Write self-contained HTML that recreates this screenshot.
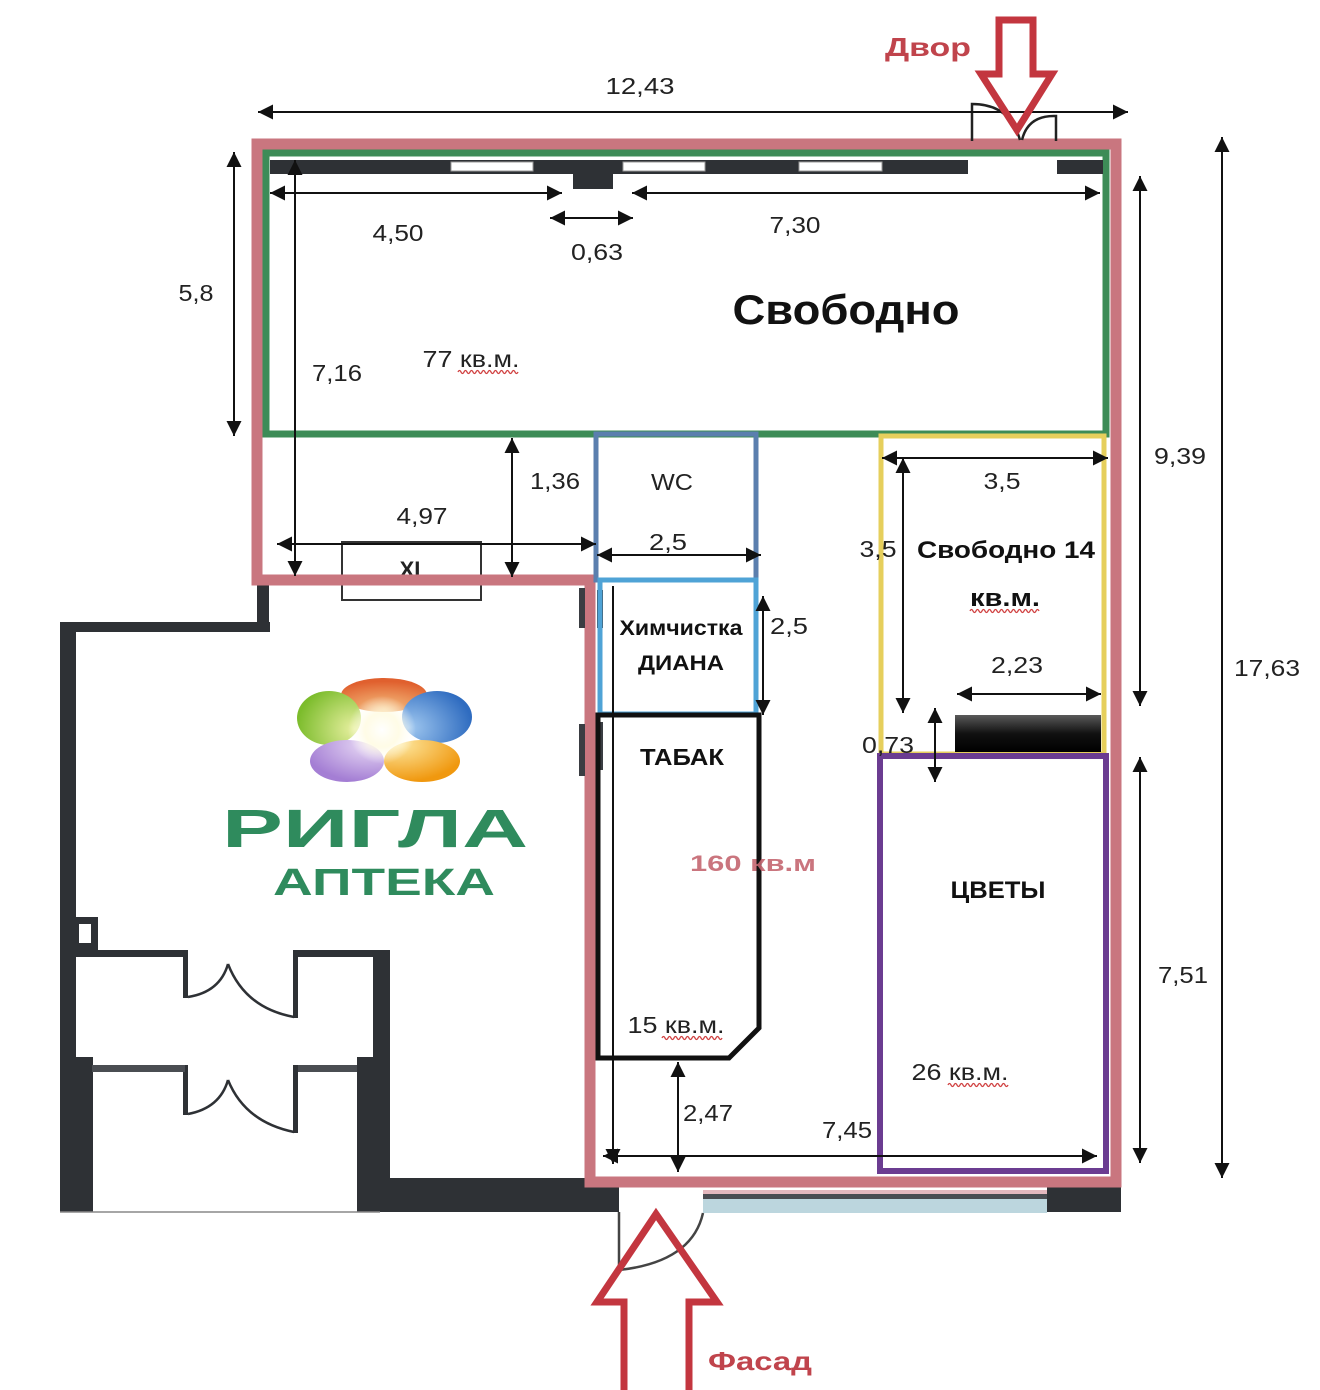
<!DOCTYPE html>
<html><head><meta charset="utf-8">
<style>
html,body{margin:0;padding:0;background:#fff;}
svg{display:block;font-family:"Liberation Sans","DejaVu Sans",sans-serif;}
.d{font-size:23px;fill:#222;text-anchor:middle;}
.b{font-weight:bold;fill:#111;text-anchor:middle;}
</style></head>
<body>
<svg width="1320" height="1390" viewBox="0 0 1320 1390" xmlns="http://www.w3.org/2000/svg">
<defs>
<marker id="a" viewBox="0 0 10 10" refX="10" refY="5" markerWidth="16" markerHeight="15" markerUnits="userSpaceOnUse" orient="auto-start-reverse"><path d="M0,0 L10,5 L0,10z" fill="#111"/></marker>
<linearGradient id="bar" x1="0" y1="0" x2="0" y2="1"><stop offset="0" stop-color="#5a5a5a"/><stop offset="0.5" stop-color="#111"/><stop offset="1" stop-color="#000"/></linearGradient>
<radialGradient id="glow" cx="0.5" cy="0.5" r="0.5"><stop offset="0" stop-color="#fff" stop-opacity="1"/><stop offset="0.5" stop-color="#fffbe0" stop-opacity="0.8"/><stop offset="1" stop-color="#fff" stop-opacity="0"/></radialGradient>
<radialGradient id="po" cx="0.5" cy="0.9" r="0.8"><stop offset="0" stop-color="#f5c080"/><stop offset="1" stop-color="#e0602e"/></radialGradient>
<radialGradient id="pg" cx="0.9" cy="0.7" r="0.9"><stop offset="0" stop-color="#e8f0a0"/><stop offset="1" stop-color="#7cbc2c"/></radialGradient>
<radialGradient id="pb" cx="0.1" cy="0.7" r="0.9"><stop offset="0" stop-color="#a0c8f0"/><stop offset="1" stop-color="#2f6cc0"/></radialGradient>
<radialGradient id="pp" cx="0.8" cy="0.1" r="0.9"><stop offset="0" stop-color="#eadcf6"/><stop offset="1" stop-color="#a47ed4"/></radialGradient>
<radialGradient id="py" cx="0.2" cy="0.1" r="0.9"><stop offset="0" stop-color="#fde8a0"/><stop offset="1" stop-color="#f0980f"/></radialGradient>
</defs>

<!-- ===== Pharmacy dark walls ===== -->
<g fill="#2e3135">
<rect x="257" y="583" width="12" height="49"/>
<rect x="60" y="622" width="210" height="10"/>
<rect x="60" y="622" width="16" height="590"/>
<rect x="60" y="1057" width="33" height="155"/>
<rect x="75" y="917" width="23" height="33"/>
<rect x="75" y="950" width="113" height="7"/>
<rect x="183" y="950" width="5" height="48"/>
<rect x="293" y="950" width="5" height="68"/>
<rect x="293" y="950" width="97" height="7"/>
<rect x="373" y="950" width="17" height="262"/>
<rect x="357" y="1057" width="33" height="155"/>
<rect x="373" y="1178" width="246" height="34"/>
<rect x="183" y="1065" width="5" height="50"/>
<rect x="293" y="1065" width="5" height="68"/>
<rect x="1047" y="1186" width="74" height="26"/>
</g>
<rect x="79" y="924" width="12" height="19" fill="#fff"/>
<rect x="92" y="1065" width="93" height="7" fill="#4a4d52"/>
<rect x="298" y="1065" width="59" height="7" fill="#4a4d52"/>
<g fill="none" stroke="#2e3135" stroke-width="2.5">
<path d="M188,997 Q220,992 228,964"/>
<path d="M294,1017 Q245,1008 228,964"/>
<path d="M188,1114 Q220,1108 228,1080"/>
<path d="M294,1132 Q245,1122 228,1080"/>
</g>
<line x1="60" y1="1212" x2="380" y2="1212" stroke="#888" stroke-width="1.5"/>

<!-- ===== Glass & bottom door ===== -->
<rect x="703" y="1190" width="344" height="4" fill="#e4b8be"/>
<rect x="703" y="1194" width="344" height="5" fill="#4a4d52"/>
<rect x="703" y="1199" width="344" height="14" fill="#bcd6de"/>
<path d="M619,1212 V1270 Q692,1262 703,1213" fill="none" stroke="#444" stroke-width="2.5"/>

<!-- ===== Logo ===== -->
<ellipse cx="384" cy="695" rx="43" ry="17" fill="url(#po)"/>
<ellipse cx="329" cy="718" rx="32" ry="27" fill="url(#pg)"/>
<ellipse cx="437" cy="717" rx="35" ry="26" fill="url(#pb)"/>
<ellipse cx="347" cy="761" rx="37" ry="21" fill="url(#pp)"/>
<ellipse cx="422" cy="761" rx="38" ry="21" fill="url(#py)"/>
<circle cx="382" cy="730" r="34" fill="url(#glow)"/>
<text x="375" y="847" font-size="54" font-weight="bold" fill="#2f8b5d" text-anchor="middle" textLength="306" lengthAdjust="spacingAndGlyphs">РИГЛА</text>
<text x="384" y="895" font-size="38" font-weight="bold" fill="#2f8b5d" text-anchor="middle" textLength="222" lengthAdjust="spacingAndGlyphs">АПТЕКА</text>

<!-- XI box -->
<rect x="342" y="542" width="139" height="58" fill="none" stroke="#333" stroke-width="2"/>
<text x="410" y="577" font-size="22" font-weight="bold" fill="#222" text-anchor="middle">XI</text>

<!-- ===== Pink outer wall ===== -->
<path d="M590,1182 V580 H257 V144 H1116 V1182 Z" fill="none" stroke="#c9767f" stroke-width="11" stroke-linejoin="miter"/>
<g fill="#3a3d42">
<rect x="579" y="588" width="6" height="40"/>
<rect x="579" y="724" width="6" height="52"/>
<rect x="597" y="590" width="6" height="38"/>
<rect x="597" y="722" width="6" height="48"/>
</g>

<!-- ===== Green area ===== -->
<rect x="266" y="153" width="840" height="281" fill="none" stroke="#3d8c57" stroke-width="7"/>
<rect x="270" y="160" width="833" height="14" fill="#2e3135"/>
<g fill="#fff" stroke="#999" stroke-width="1">
<rect x="451" y="162" width="82" height="9"/>
<rect x="623" y="162" width="82" height="9"/>
<rect x="799" y="162" width="83" height="9"/>
</g>
<rect x="968" y="157" width="89" height="18" fill="#fff"/>
<rect x="573" y="160" width="40" height="29" fill="#2e3135"/>

<!-- top door -->
<g fill="none" stroke="#222" stroke-width="2.5">
<path d="M972,141 V104 Q1010,104 1020,140"/>
<path d="M1056,141 V116 Q1028,115 1022,140"/>
</g>

<!-- ===== Rooms ===== -->
<rect x="596" y="434" width="160" height="146" fill="none" stroke="#5b7fae" stroke-width="5"/>
<rect x="600" y="580" width="156" height="134" fill="none" stroke="#4fa3d6" stroke-width="5"/>
<polygon points="598,715 759,715 759,1028 729,1058 598,1058" fill="none" stroke="#111" stroke-width="5"/>
<rect x="881" y="436" width="223" height="318" fill="none" stroke="#e6cf5c" stroke-width="5"/>
<rect x="955" y="715" width="146" height="37" fill="url(#bar)"/>
<rect x="880" y="756" width="226" height="415" fill="none" stroke="#6b3c91" stroke-width="6"/>

<!-- ===== Dimension lines ===== -->
<g stroke="#111" stroke-width="2" marker-start="url(#a)" marker-end="url(#a)">
<line x1="258" y1="112" x2="1128" y2="112"/>
<line x1="234" y1="152" x2="234" y2="436"/>
<line x1="295" y1="160" x2="295" y2="576"/>
<line x1="270" y1="193" x2="562" y2="193"/>
<line x1="550" y1="218" x2="633" y2="218"/>
<line x1="632" y1="193" x2="1100" y2="193"/>
<line x1="277" y1="544" x2="596" y2="544"/>
<line x1="512" y1="438" x2="512" y2="577"/>
<line x1="597" y1="555" x2="761" y2="555"/>
<line x1="763" y1="596" x2="763" y2="715"/>
<line x1="882" y1="458" x2="1108" y2="458"/>
<line x1="903" y1="458" x2="903" y2="713"/>
<line x1="957" y1="694" x2="1101" y2="694"/>
<line x1="935" y1="708" x2="935" y2="782"/>
<line x1="1140" y1="176" x2="1140" y2="706"/>
<line x1="1140" y1="757" x2="1140" y2="1163"/>
<line x1="1222" y1="137" x2="1222" y2="1178"/>
<line x1="678" y1="1062" x2="678" y2="1172"/>
<line x1="603" y1="1156" x2="1097" y2="1156"/>
</g>
<line x1="613" y1="586" x2="613" y2="1164" stroke="#111" stroke-width="2" marker-end="url(#a)"/>

<!-- ===== Red arrows ===== -->
<polygon points="999,20 1033,20 1033,74 1052,74 1017,130 981,74 999,74" fill="none" stroke="#c3363f" stroke-width="7" stroke-linejoin="miter"/>
<polygon points="656,1214 717,1302 689,1302 689,1398 624,1398 624,1302 597,1302" fill="none" stroke="#c3363f" stroke-width="7" stroke-linejoin="miter"/>

<!-- ===== Labels ===== -->
<text x="928" y="56" font-size="26" font-weight="bold" fill="#c0444c" text-anchor="middle" textLength="86" lengthAdjust="spacingAndGlyphs">Двор</text>
<text x="760" y="1370" font-size="26" font-weight="bold" fill="#c0444c" text-anchor="middle" textLength="104" lengthAdjust="spacingAndGlyphs">Фасад</text>

<text class="d" x="640" y="94" textLength="69" lengthAdjust="spacingAndGlyphs">12,43</text>
<text class="d" x="398" y="241" textLength="51" lengthAdjust="spacingAndGlyphs">4,50</text>
<text class="d" x="597" y="260" textLength="52" lengthAdjust="spacingAndGlyphs">0,63</text>
<text class="d" x="795" y="233" textLength="51" lengthAdjust="spacingAndGlyphs">7,30</text>
<text class="d" x="196" y="301" textLength="35" lengthAdjust="spacingAndGlyphs">5,8</text>
<text class="d" x="337" y="381" textLength="50" lengthAdjust="spacingAndGlyphs">7,16</text>
<text class="d" x="471" y="367" textLength="97" lengthAdjust="spacingAndGlyphs">77 кв.м.</text>
<text class="d" x="555" y="489" textLength="50" lengthAdjust="spacingAndGlyphs">1,36</text>
<text class="d" x="672" y="490" textLength="42" lengthAdjust="spacingAndGlyphs">WC</text>
<text class="d" x="422" y="524" textLength="51" lengthAdjust="spacingAndGlyphs">4,97</text>
<text class="d" x="668" y="550" textLength="38" lengthAdjust="spacingAndGlyphs">2,5</text>
<text class="d" x="789" y="634" textLength="38" lengthAdjust="spacingAndGlyphs">2,5</text>
<text class="d" x="1002" y="489" textLength="37" lengthAdjust="spacingAndGlyphs">3,5</text>
<text class="d" x="878" y="557" textLength="37" lengthAdjust="spacingAndGlyphs">3,5</text>
<text class="d" x="1017" y="673" textLength="52" lengthAdjust="spacingAndGlyphs">2,23</text>
<text class="d" x="888" y="753" textLength="52" lengthAdjust="spacingAndGlyphs">0,73</text>
<text class="d" x="1180" y="464" textLength="52" lengthAdjust="spacingAndGlyphs">9,39</text>
<text class="d" x="1267" y="676" textLength="66" lengthAdjust="spacingAndGlyphs">17,63</text>
<text class="d" x="1183" y="983" textLength="50" lengthAdjust="spacingAndGlyphs">7,51</text>
<text class="d" x="676" y="1033" textLength="97" lengthAdjust="spacingAndGlyphs">15 кв.м.</text>
<text class="d" x="960" y="1080" textLength="97" lengthAdjust="spacingAndGlyphs">26 кв.м.</text>
<text class="d" x="708" y="1121" textLength="50" lengthAdjust="spacingAndGlyphs">2,47</text>
<text class="d" x="847" y="1138" textLength="50" lengthAdjust="spacingAndGlyphs">7,45</text>

<text class="b" x="846" y="324" font-size="42" textLength="227" lengthAdjust="spacingAndGlyphs">Свободно</text>
<text class="b" x="681" y="635" font-size="21" textLength="123" lengthAdjust="spacingAndGlyphs">Химчистка</text>
<text class="b" x="681" y="670" font-size="21" textLength="86" lengthAdjust="spacingAndGlyphs">ДИАНА</text>
<text class="b" x="1006" y="558" font-size="24" textLength="178" lengthAdjust="spacingAndGlyphs">Свободно 14</text>
<text class="b" x="1005" y="606" font-size="24" textLength="70" lengthAdjust="spacingAndGlyphs">кв.м.</text>
<text class="b" x="682" y="765" font-size="23" textLength="84" lengthAdjust="spacingAndGlyphs">ТАБАК</text>
<text class="b" x="753" y="871" font-size="22" fill="#c46670" fill-opacity="0.9" textLength="126" lengthAdjust="spacingAndGlyphs" style="fill:#c46670">160 кв.м</text>
<text class="b" x="998" y="898" font-size="24" textLength="95" lengthAdjust="spacingAndGlyphs">ЦВЕТЫ</text>

<!-- wavy underlines -->
<g fill="none" stroke="#d04040" stroke-width="1.3">
<path d="M458,372 q1.5,-3 3,0 t3,0 t3,0 t3,0 t3,0 t3,0 t3,0 t3,0 t3,0 t3,0 t3,0 t3,0 t3,0 t3,0 t3,0 t3,0 t3,0 t3,0 t3,0 t3,0"/>
<path d="M970,611 q1.5,-3 3,0 t3,0 t3,0 t3,0 t3,0 t3,0 t3,0 t3,0 t3,0 t3,0 t3,0 t3,0 t3,0 t3,0 t3,0 t3,0 t3,0 t3,0 t3,0 t3,0 t3,0 t3,0 t3,0"/>
<path d="M662,1038 q1.5,-3 3,0 t3,0 t3,0 t3,0 t3,0 t3,0 t3,0 t3,0 t3,0 t3,0 t3,0 t3,0 t3,0 t3,0 t3,0 t3,0 t3,0 t3,0 t3,0 t3,0"/>
<path d="M948,1085 q1.5,-3 3,0 t3,0 t3,0 t3,0 t3,0 t3,0 t3,0 t3,0 t3,0 t3,0 t3,0 t3,0 t3,0 t3,0 t3,0 t3,0 t3,0 t3,0 t3,0 t3,0"/>
</g>
</svg>
</body></html>
